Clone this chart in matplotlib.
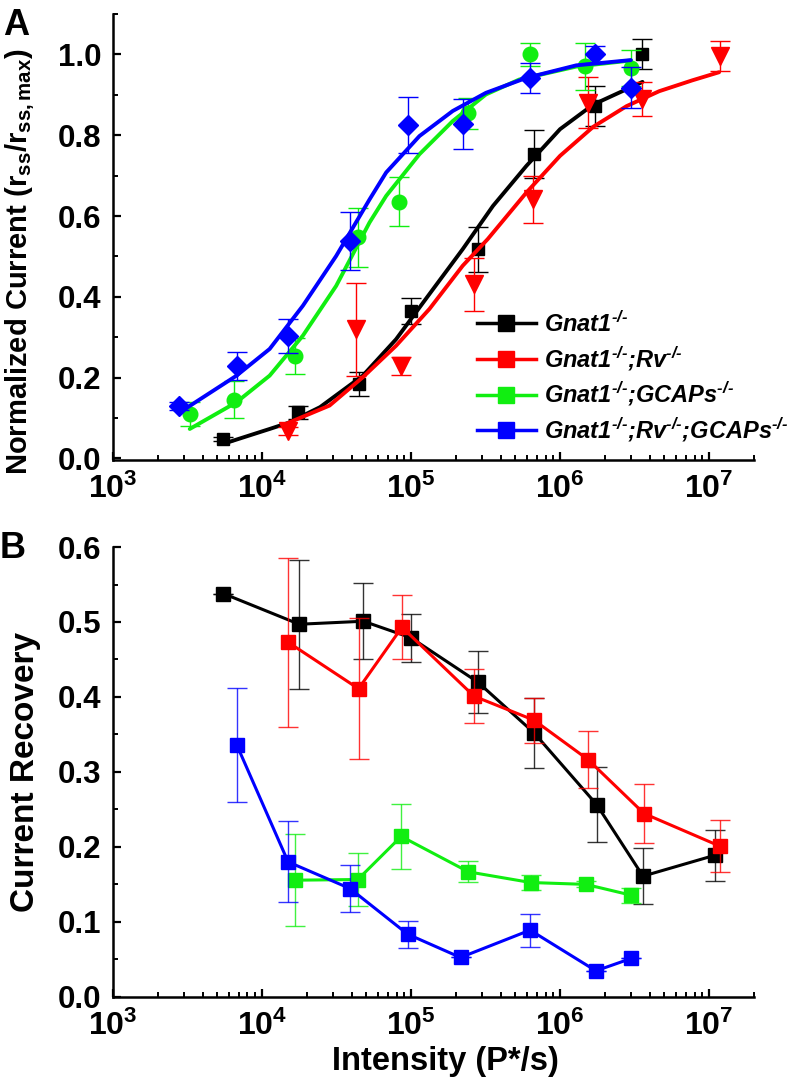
import matplotlib
matplotlib.use('Agg')
import matplotlib.pyplot as plt
from matplotlib.lines import Line2D
from matplotlib.ticker import LogLocator, MultipleLocator, FormatStrFormatter
import numpy as np

plt.rcParams['font.family'] = ['Liberation Sans', 'DejaVu Sans']
plt.rcParams['font.weight'] = 'bold'
plt.rcParams['mathtext.fontset'] = 'custom'
plt.rcParams['mathtext.rm'] = 'Liberation Sans:bold:italic'
plt.rcParams['mathtext.it'] = 'Liberation Sans:bold:italic'
plt.rcParams['mathtext.bf'] = 'Liberation Sans:bold'

# ---- panel A: normalized steady-state current ----
a_black_x = [5.5e3, 1.76e4, 4.5e4, 1.0e5, 2.8e5, 6.7e5, 1.72e6, 3.57e6]
a_black_y = [0.048, 0.114, 0.184, 0.365, 0.518, 0.753, 0.872, 1.0]
a_black_e = [0.005, 0.016, 0.029, 0.032, 0.056, 0.06, 0.05, 0.037]

a_red_x = [1.5e4, 4.3e4, 8.6e4, 2.63e5, 6.6e5, 1.55e6, 3.57e6, 1.19e7]
a_red_y = [0.069, 0.32, 0.229, 0.431, 0.641, 0.881, 0.890, 0.996]
a_red_e = [0.01, 0.115, 0.023, 0.065, 0.058, 0.063, 0.043, 0.037]

a_green_x = [3.3e3, 6.5e3, 1.67e4, 4.4e4, 8.3e4, 2.42e5, 6.3e5, 1.48e6, 3.0e6]
a_green_y = [0.11, 0.145, 0.253, 0.547, 0.636, 0.854, 1.0, 0.971, 0.967]
a_green_e = [0.03, 0.046, 0.045, 0.072, 0.061, 0.038, 0.028, 0.058, 0.045]

a_blue_x = [2.8e3, 6.8e3, 1.5e4, 3.9e4, 9.5e4, 2.24e5, 6.3e5, 1.72e6, 3.0e6]
a_blue_y = [0.129, 0.229, 0.304, 0.538, 0.825, 0.827, 0.942, 1.0, 0.918]
a_blue_e = [0.01, 0.034, 0.042, 0.072, 0.07, 0.062, 0.037, 0.022, 0.05]

# fitted curves (log10 intensity, normalized current)
fit_black_logx = [3.739, 4.052, 4.176, 4.39, 4.677, 4.9, 5.124, 5.347, 5.55, 5.774, 6.0, 6.223, 6.553]
fit_black_y = [0.036, 0.073, 0.088, 0.127, 0.205, 0.295, 0.407, 0.518, 0.625, 0.724, 0.815, 0.876, 0.932]
fit_red_logx = [4.176, 4.454, 4.677, 4.9, 5.124, 5.347, 5.515, 5.774, 6.0, 6.223, 6.446, 6.665, 6.888, 7.067]
fit_red_y = [0.088, 0.131, 0.201, 0.279, 0.37, 0.477, 0.543, 0.658, 0.749, 0.821, 0.872, 0.909, 0.936, 0.956]
fit_green_logx = [3.516, 3.829, 4.052, 4.275, 4.498, 4.722, 4.834, 5.057, 5.28, 5.503, 5.727, 6.109, 6.475]
fit_green_y = [0.073, 0.139, 0.205, 0.304, 0.427, 0.584, 0.650, 0.753, 0.835, 0.901, 0.938, 0.970, 0.985]
fit_blue_logx = [3.449, 3.83, 4.052, 4.275, 4.498, 4.722, 4.834, 5.057, 5.28, 5.503, 5.774, 6.109, 6.475]
fit_blue_y = [0.114, 0.205, 0.271, 0.378, 0.501, 0.641, 0.708, 0.798, 0.86, 0.905, 0.942, 0.973, 0.986]

# ---- panel B: current recovery ----
b_black_x = [5.5e3, 1.78e4, 4.8e4, 1.0e5, 2.8e5, 6.7e5, 1.76e6, 3.6e6, 1.1e7]
b_black_y = [0.538, 0.497, 0.501, 0.479, 0.42, 0.352, 0.2565, 0.161, 0.189]
b_black_e = [0.0, 0.086, 0.051, 0.032, 0.041, 0.047, 0.05, 0.037, 0.034]

b_red_x = [1.5e4, 4.45e4, 8.7e4, 2.65e5, 6.7e5, 1.54e6, 3.66e6, 1.18e7]
b_red_y = [0.473, 0.411, 0.493, 0.401, 0.369, 0.3165, 0.2445, 0.201]
b_red_e = [0.113, 0.094, 0.043, 0.036, 0.03, 0.038, 0.039, 0.035]

b_green_x = [1.67e4, 4.4e4, 8.6e4, 2.43e5, 6.35e5, 1.49e6, 3.0e6]
b_green_y = [0.1556, 0.1565, 0.214, 0.1667, 0.1525, 0.150, 0.1356]
b_green_e = [0.061, 0.035, 0.043, 0.014, 0.01, 0.004, 0.01]

b_blue_x = [6.8e3, 1.5e4, 3.9e4, 9.5e4, 2.15e5, 6.3e5, 1.74e6, 3.0e6]
b_blue_y = [0.3356, 0.18, 0.1445, 0.0836, 0.0525, 0.089, 0.0347, 0.0512]
b_blue_e = [0.076, 0.054, 0.032, 0.018, 0.0, 0.022, 0.0, 0.0]

ko = r'$^{\text{-/-}}$'
labels = ['Gnat1' + ko,
          'Gnat1' + ko + ';Rv' + ko,
          'Gnat1' + ko + ';GCAPs' + ko,
          'Gnat1' + ko + ';Rv' + ko + ';GCAPs' + ko]
colors = ['#000000', '#ff0000', '#11ee11', '#0000ff']

fig = plt.figure(figsize=(8, 10.8), dpi=100)
axA = fig.add_axes([0.141, 0.574, 0.8015, 0.413])
axB = fig.add_axes([0.141, 0.077, 0.8015, 0.4165])


def style_axis(ax):
    ax.set_xscale('log')
    ax.set_xlim(1e3, 2e7)
    for s in ['top', 'right']:
        ax.spines[s].set_visible(False)
    for s in ['left', 'bottom']:
        ax.spines[s].set_linewidth(1.8)
    ax.xaxis.set_major_locator(LogLocator(base=10, numticks=10))
    ax.xaxis.set_minor_locator(LogLocator(base=10, subs=np.arange(2, 10), numticks=20))
    ax.tick_params(which='major', direction='in', length=6, width=1.6)
    ax.tick_params(which='minor', direction='in', length=3.5, width=1.4)
    ax.tick_params(axis='x', which='major', labelsize=23, pad=10)
    ax.tick_params(axis='y', which='major', labelsize=22.5, pad=8)
    ax.yaxis.set_major_formatter(FormatStrFormatter('%.1f'))


# panel A
a_sets = [(a_black_x, a_black_y, a_black_e, 's', 8.5),
          (a_red_x, a_red_y, a_red_e, 'v', 13),
          (a_green_x, a_green_y, a_green_e, 'o', 10.5),
          (a_blue_x, a_blue_y, a_blue_e, 'D', 10)]
fits = [(fit_black_logx, fit_black_y), (fit_red_logx, fit_red_y),
        (fit_green_logx, fit_green_y), (fit_blue_logx, fit_blue_y)]
for (x, y, e, m, ms), (fx, fy), c in zip(a_sets, fits, colors):
    axA.errorbar(x, y, yerr=e, fmt='none', ecolor=c, elinewidth=1,
                 capsize=7, capthick=1)
    axA.plot(x, y, linestyle='none', marker=m, markersize=ms, color=c)
    axA.plot(np.power(10.0, fx), fy, color=c, linewidth=2.8,
             solid_capstyle='round', solid_joinstyle='round')

style_axis(axA)
axA.set_ylim(-0.004, 1.1)
axA.yaxis.set_major_locator(MultipleLocator(0.2))
axA.yaxis.set_minor_locator(MultipleLocator(0.1))
axA.set_ylabel(r'Normalized Current (r$_{\mathdefault{ss}}$/r$_{\mathdefault{ss,max}}$)',
               fontsize=21, fontweight='bold', labelpad=15)
axA.yaxis.label.set_y(0.445)

handles = [Line2D([], [], color=c, linewidth=2.5, marker='s', markersize=11)
           for c in colors]
axA.legend(handles, labels, loc='upper left', bbox_to_anchor=(0.596, 0.712),
           bbox_transform=fig.transFigure, frameon=False, borderpad=0,
           borderaxespad=0, handlelength=2.5, handletextpad=0.35,
           labelspacing=0.3, prop={'size': 17, 'weight': 'bold', 'style': 'italic'})

# panel B
b_sets = [(b_black_x, b_black_y, b_black_e), (b_red_x, b_red_y, b_red_e),
          (b_green_x, b_green_y, b_green_e), (b_blue_x, b_blue_y, b_blue_e)]
for (x, y, e), c in zip(b_sets, colors):
    axB.errorbar(x, y, yerr=e, fmt='none', ecolor=c, elinewidth=1,
                 capsize=7, capthick=1, alpha=0.8)
    axB.plot(x, y, color=c, linewidth=2.2, marker='s', markersize=10.5)

style_axis(axB)
axB.set_ylim(0, 0.6)
axB.yaxis.set_major_locator(MultipleLocator(0.1))
axB.yaxis.set_minor_locator(MultipleLocator(0.05))
axB.set_ylabel('Current Recovery', fontsize=24, fontweight='bold', labelpad=12)
axB.set_xlabel('Intensity (P*/s)', fontsize=23.5, fontweight='bold', labelpad=3)
axB.xaxis.label.set_x(0.518)

fig.text(0.004, 0.993, 'A', fontsize=26, fontweight='bold', va='top', ha='left')
fig.text(0.0, 0.508, 'B', fontsize=26, fontweight='bold', va='top', ha='left')

fig.savefig('out.png', dpi=100)
